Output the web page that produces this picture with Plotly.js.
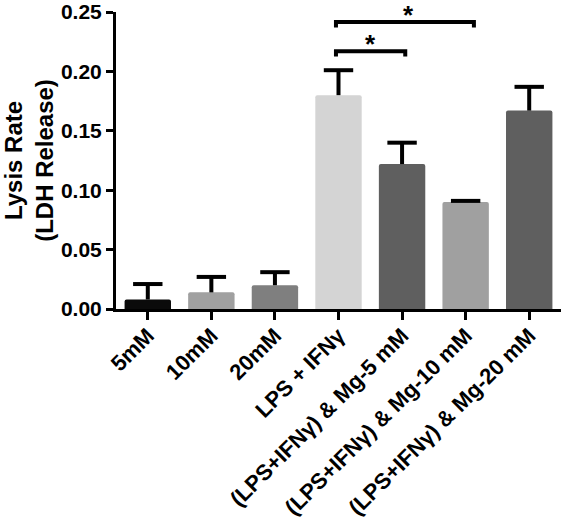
<!DOCTYPE html>
<html>
<head>
<meta charset="utf-8">
<script src="https://cdn.plot.ly/plotly-3.0.1.min.js"></script>
<style>html,body{margin:0;padding:0;background:#fff;}#chart{width:566px;height:519px;}</style>
</head>
<body>
<div id="chart"></div>
<script>
const categories = ["5mM", "10mM", "20mM", "LPS + IFNγ", "(LPS+IFNγ) & Mg-5 mM", "(LPS+IFNγ) & Mg-10 mM", "(LPS+IFNγ) & Mg-20 mM"];
const lysisRate = [0.008, 0.014, 0.020, 0.180, 0.122, 0.090, 0.167];
const errorUp = [0.013, 0.013, 0.011, 0.021, 0.018, 0.001, 0.020];
const barColors = ["#0b0b0b", "#a0a0a0", "#7f7f7f", "#d4d4d4", "#5f5f5f", "#a0a0a0", "#5f5f5f"];
const yTicks = [0, 0.05, 0.10, 0.15, 0.20, 0.25];
// significance comparisons: [from index, to index, bracket height, label]
const comparisons = [
  [3, 4, 0.217, "*"],
  [3, 5, 0.2415, "*"]
];

const FONT = "Liberation Sans, Arial, sans-serif";
const xs = categories.map((c, i) => i);

const bars = {
  type: "bar",
  x: xs,
  y: lysisRate,
  width: 0.73,
  marker: { color: barColors, line: { width: 0 }, cornerradius: 2 },
  error_y: {
    type: "data",
    symmetric: false,
    array: errorUp,
    arrayminus: errorUp.map(() => 0),
    color: "#000",
    thickness: 4,
    width: 0
  },
  hoverinfo: "skip"
};
// caps on top of the (one-sided) error bars
const caps = {
  type: "scatter",
  mode: "markers",
  x: xs,
  y: lysisRate.map((v, i) => v + errorUp[i]),
  marker: { symbol: "line-ew-open", size: 21, color: "#000", line: { color: "#000", width: 4 } },
  hoverinfo: "skip",
  cliponaxis: false
};

const shapes = [];
const annotations = [];
comparisons.forEach(([a, b, h, lab], k) => {
  const x0 = a - 0.04, x1 = b + (k === 0 ? 0.05 : 0.13);
  const drop = 0.0045;
  shapes.push({
    type: "path", xref: "x", yref: "y",
    path: `M ${x0} ${h - drop} L ${x0} ${h} L ${x1} ${h} L ${x1} ${h - drop}`,
    line: { color: "#000", width: 4 }
  });
  annotations.push({
    xref: "x", yref: "y",
    x: (x0 + x1) / 2 + (k === 0 ? 0.0 : 0.06), y: h,
    text: "<b>" + lab + "</b>", showarrow: false,
    yanchor: "middle", yshift: 7,
    font: { family: FONT, size: 26, color: "#000" }
  });
});

const layout = {
  width: 566, height: 519,
  margin: { l: 116, r: 5, t: 12, b: 210 },
  paper_bgcolor: "#fff", plot_bgcolor: "#fff",
  showlegend: false,
  font: { family: FONT, color: "#000" },
  xaxis: {
    range: [-0.5, 6.5],
    tickmode: "array",
    tickvals: xs,
    ticktext: categories.map(c => "<b>" + c + "</b>"),
    tickangle: -45,
    tickfont: { family: FONT, size: 22, color: "#000" },
    ticklabelstandoff: -6,
    ticks: "outside", ticklen: 8, tickwidth: 3, tickcolor: "#000",
    showline: true, linecolor: "#000", linewidth: 3,
    showgrid: false, zeroline: false, automargin: false, fixedrange: true
  },
  yaxis: {
    range: [0, 0.25],
    tickmode: "array",
    tickvals: yTicks,
    ticktext: yTicks.map(v => "<b>" + v.toFixed(2) + "</b>"),
    tickfont: { family: FONT, size: 21, color: "#000" },
    ticks: "outside", ticklen: 7, tickwidth: 3, tickcolor: "#000",
    showline: true, linecolor: "#000", linewidth: 3,
    showgrid: false, zeroline: false, automargin: false, fixedrange: true,
    title: {
      text: "<b>Lysis Rate<br>(LDH Release)</b>",
      font: { family: FONT, size: 24, color: "#000" },
      standoff: 8
    }
  },
  shapes: shapes,
  annotations: annotations
};

Plotly.newPlot("chart", [bars, caps], layout, { staticPlot: true, displayModeBar: false });
</script>
</body>
</html>
